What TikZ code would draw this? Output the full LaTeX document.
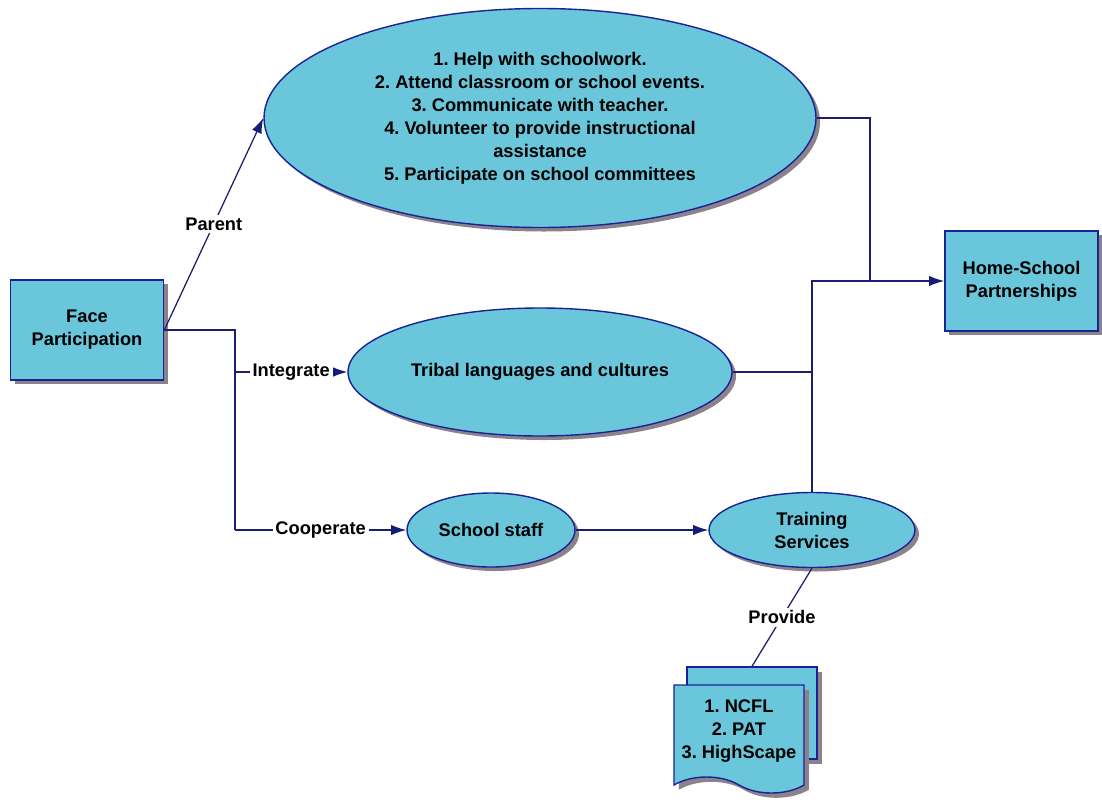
\documentclass[tikz,border=0pt]{standalone}
\usepackage{fontspec}
\setmainfont{Liberation Sans}
\usetikzlibrary{shapes.geometric, shapes.symbols, arrows.meta, shadows}
\definecolor{bubblefill}{RGB}{106,199,219}
\definecolor{edgeblue}{RGB}{25,35,150}
\definecolor{linenavy}{RGB}{30,30,110}
\definecolor{shadowgray}{RGB}{140,130,140}
\tikzstyle{block} = [rectangle, 
minimum width=3.825cm, 
minimum height=2.5cm,
text centered, 
align=center,
draw=edgeblue, 
line width=1.1pt,
fill=bubblefill,
drop shadow={shadow xshift=0.1cm, shadow yshift=-0.1cm, fill=shadowgray, opacity=1}]
\tikzstyle{bubble} = [ellipse, 
inner sep=0pt,
text centered, 
align=center,
draw=edgeblue, 
line width=1pt,
fill=bubblefill,
drop shadow={shadow xshift=0.1cm, shadow yshift=-0.1cm, fill=shadowgray, opacity=1}]
\tikzstyle{page} = [rectangle, 
text centered, 
align=center,
draw=edgeblue, 
line width=1pt,
fill=bubblefill,
drop shadow={shadow xshift=0.12cm, shadow yshift=-0.12cm, fill=shadowgray, opacity=1}]
\tikzstyle{coord} = [
coordinate, 
node distance=2cm
]
\tikzstyle{line} = [draw=linenavy, line width=0.9pt]
\tikzstyle{arrow} = [line, -{Latex[length=3.8mm, width=2.6mm, color=edgeblue!80!black]}]
\tikzstyle{lbl} = [fill=white, inner sep=2pt]

\begin{document}
\frenchspacing
\begin{tikzpicture} [node distance=2cm, font=\fontsize{13}{16.4}\selectfont\bfseries]
		\useasboundingbox (0,0) rectangle (27.55,-19.975);
		\node (face) [block, xshift=2.175cm, yshift=-8.25cm] {Face\\Participation};
		\node (ell1) [bubble, minimum width=13.8cm, minimum height=5.475cm, right of=face, xshift=9.325cm, yshift=5.3cm] {1. Help with schoolwork.\\2. Attend classroom or school events.\\3. Communicate with teacher.\\4. Volunteer to provide instructional\\assistance\\5. Participate on school committees};
		\node (ell2) [bubble, minimum width=9.6cm, minimum height=3.2cm, below of=ell1, node distance=6.35cm] {Tribal languages and cultures};
		\node (staff) [bubble, minimum width=4.2cm, minimum height=1.85cm, right of=face, xshift=8.1cm, yshift=-5cm] {School staff};
		\node (train) [bubble, minimum width=5.15cm, minimum height=1.875cm, right of=staff, xshift=6.025cm] {Training\\Services};
		\node (home) [block, right of=train, xshift=3.2375cm, yshift=6.225cm] {Home-School\\Partnerships};
		\node (pg2) [page, minimum width=3.25cm, minimum height=2.3cm, below of=train, node distance=4.575cm, xshift=-1.5cm] {};
		\node (docs) [page, tape, tape bend top=none, tape bend bottom=out and in, tape bend height=0.4cm, minimum width=3.25cm, minimum height=2.7cm, below of=pg2, node distance=0.45cm, xshift=-0.325cm] {1. NCFL\\2. PAT\\3. HighScape};
		\node (c1) [coord, right of=face, xshift=1.7cm, yshift=-5cm] {};
		\node (c2) [coord, left of=home, node distance=3.7875cm] {};
		\draw [arrow] (face.east) -- node[lbl] {Parent} (ell1.west);
		\draw [line] (face.east) -| (c1);
		\draw [arrow] (c1 |- ell2.west) -- node[lbl] {Integrate} (ell2.west);
		\draw [arrow] (c1) -- node[lbl] {Cooperate} (staff.west);
		\draw [arrow] (staff.east) -- (train.west);
		\draw [arrow] (train.north) |- (home.west);
		\draw [line] (ell1.east) -| (c2);
		\draw [line] (ell2.east) -- (ell2.east -| train.north);
		\draw [line] (train.south) -- node[lbl] {Provide} (pg2.north);
	\end{tikzpicture}
\end{document}
